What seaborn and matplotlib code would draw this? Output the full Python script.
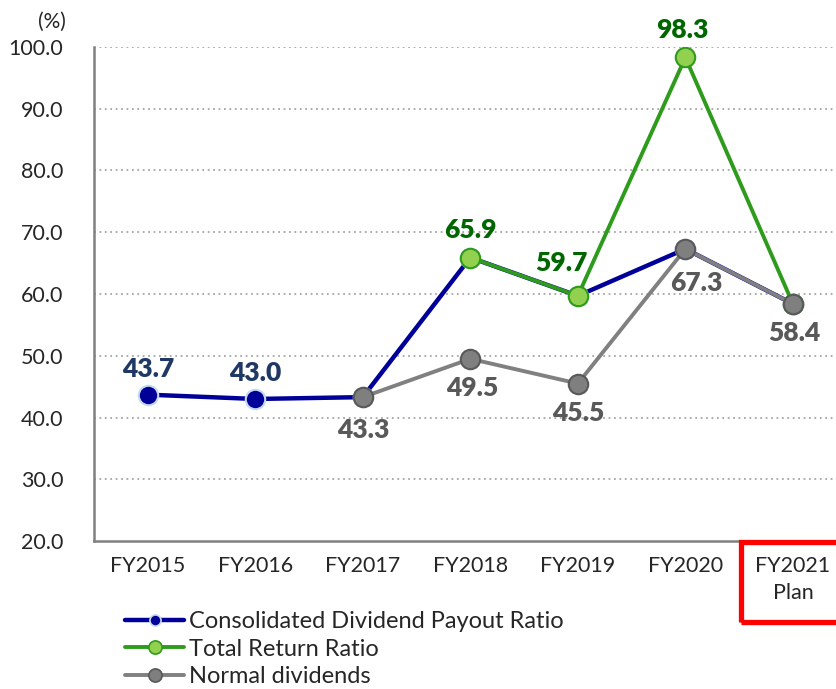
import numpy as np
import matplotlib
matplotlib.use("Agg")
import matplotlib.pyplot as plt
from matplotlib.lines import Line2D
from matplotlib.patches import Rectangle
import seaborn as sns

# dados
anos = ['FY2015', 'FY2016', 'FY2017', 'FY2018', 'FY2019', 'FY2020', 'FY2021\nPlan']
payout = [43.7, 43.0, 43.3, 65.9, 59.7, 67.3, 58.4]
total_return = [np.nan, np.nan, np.nan, 65.9, 59.7, 98.3, 58.4]
normal_div = [np.nan, np.nan, 43.3, 49.5, 45.5, 67.3, 58.4]

# rótulos: (indice, dx px, dy px)
rot_payout = [(0, 0, 26), (1, 0, 26)]
rot_total = [(3, 0, 28), (4, -17, 33), (5, -3, 27)]
rot_normal = [(2, 0, -33), (3, 2, -29), (4, 0, -29), (5, 11, -34), (6, 1, -29)]

sns.set_style("white")
plt.rcParams['font.family'] = ['Lato', 'DejaVu Sans']

W, H = 837, 689
fig = plt.figure(figsize=(W / 100, H / 100), dpi=100)
ax = fig.add_axes([94 / W, (H - 541) / H, (837 - 94) / W, (541 - 47) / H])

azul, azul_rot = '#000099', '#1f3864'
verde, verde_rot = '#2e9b1c', '#006600'
cinza, cinza_rot = '#808080', '#595959'

idx = np.arange(len(anos))

def serie(vals):
    v = np.array(vals, dtype=float)
    m = ~np.isnan(v)
    return idx[m], v[m]

x, y = serie(payout)
sns.lineplot(x=x, y=y, ax=ax, color=azul, lw=3.2, marker='o', markersize=14,
             markerfacecolor=azul, markeredgecolor='#c5d9f1', markeredgewidth=1.5, zorder=3)
x, y = serie(total_return)
sns.lineplot(x=x, y=y, ax=ax, color=verde, lw=2.8, marker='o', markersize=14,
             markerfacecolor='#92d050', markeredgecolor=verde, markeredgewidth=1.5, zorder=4)
x, y = serie(normal_div)
sns.lineplot(x=x, y=y, ax=ax, color=cinza, lw=2.8, marker='o', markersize=14,
             markerfacecolor='#7f7f7f', markeredgecolor='#595959', markeredgewidth=1.5, zorder=5)

for vals, rots, cor in [(payout, rot_payout, azul_rot), (total_return, rot_total, verde_rot),
                        (normal_div, rot_normal, cinza_rot)]:
    for i, dx, dy in rots:
        ax.annotate(f'{vals[i]:.1f}', (idx[i], vals[i]), xytext=(dx * 0.72, dy * 0.72),
                    textcoords='offset points', ha='center', va='center',
                    fontsize=19, fontweight='heavy', color=cor, zorder=6)

ax.set_ylim(20, 100)
ax.set_xlim(-0.5, 6.41)
ax.set_yticks(np.arange(20, 101, 10))
ax.set_yticklabels([f'{v:.1f}' for v in np.arange(20, 101, 10)], fontsize=15.5)
ax.set_xticks(idx)
ax.set_xticklabels(anos, fontsize=15.5, linespacing=1.45)
ax.set_xticks(np.arange(-0.5, 6.5, 1), minor=True)
ax.tick_params(axis='x', which='major', length=0, pad=11)
ax.tick_params(axis='x', which='minor', length=6, width=1.5, color='#808080', direction='out')
ax.tick_params(axis='y', length=8, width=1.5, color='#808080', direction='out', pad=14)
ax.set_xlabel('')
ax.set_ylabel('')

for v in np.arange(30, 101, 10):
    ax.axhline(v, color='#a6a6a6', ls=(0, (1, 2)), lw=1.3, zorder=1)

for s in ['top', 'right']:
    ax.spines[s].set_visible(False)
for s in ['left', 'bottom']:
    ax.spines[s].set_color('#808080')
    ax.spines[s].set_linewidth(1.8)

fig.text(52 / W, 1 - 22 / H, '(%)', fontsize=15, ha='center', va='center')

# caixa vermelha em volta do FY2021 Plan
fig.patches.append(Rectangle((741 / W, 1 - 622 / H), 0.2, (622 - 542) / H,
                             transform=fig.transFigure, fill=False, ec='#ff0000', lw=3.8))

handles = [
    Line2D([], [], color=azul, lw=3.2, marker='o', markersize=8,
           markerfacecolor=azul, markeredgecolor='#c5d9f1', markeredgewidth=1.2),
    Line2D([], [], color=verde, lw=2.8, marker='o', markersize=9.5,
           markerfacecolor='#92d050', markeredgecolor=verde, markeredgewidth=1.2),
    Line2D([], [], color=cinza, lw=2.8, marker='o', markersize=9.5,
           markerfacecolor='#7f7f7f', markeredgecolor='#595959', markeredgewidth=1.2),
]
labels = ['Consolidated Dividend Payout Ratio', 'Total Return Ratio', 'Normal dividends']
fig.legend(handles, labels, loc='upper left', bbox_to_anchor=(125 / W, 1 - 611 / H),
           frameon=False, fontsize=17, handlelength=2.5, handletextpad=0.2,
           labelspacing=0.28, borderaxespad=0, borderpad=0)

fig.savefig('out.png', dpi=100)
